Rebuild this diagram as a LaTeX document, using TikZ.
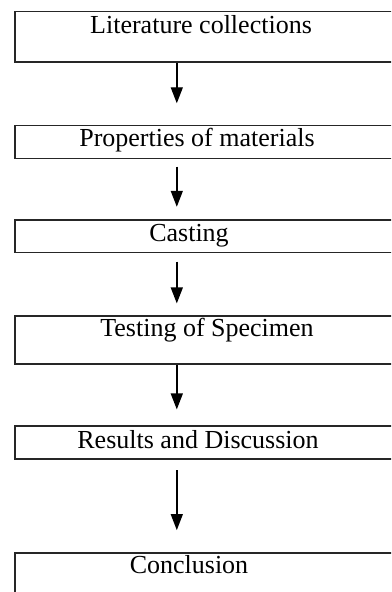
\documentclass[tikz,border=0pt]{standalone}
\usepackage{fontspec}
\setmainfont{Liberation Serif}
\usetikzlibrary{arrows.meta, calc}

\begin{document}
\begin{tikzpicture}[
    stagebox/.style={draw=black!85, line width=0.9pt, anchor=north west,
        minimum width=210pt, inner sep=0pt},
    stagetext/.style={anchor=base, inner sep=0pt,
        font=\fontsize{13}{15}\selectfont},
    flowarrow/.style={line width=0.7pt, -{Triangle[length=8pt, width=6pt]}}
]
    % page frame, the boxes run past the right edge
    \clip (0,0) rectangle (195.5pt,-296pt);

    % stage boxes
    \node[stagebox, minimum height=25.15pt] (lit)  at (7pt,-5.35pt)  {};
    \node[stagebox, minimum height=16.5pt]  (prop) at (7pt,-62.35pt) {};
    \node[stagebox, minimum height=16.35pt] (cast) at (7pt,-109.5pt) {};
    \node[stagebox, minimum height=24.15pt] (test) at (7pt,-157.5pt) {};
    \node[stagebox, minimum height=16.65pt] (res)  at (7pt,-212.5pt) {};
    \node[stagebox, minimum height=40pt]    (conc) at (7pt,-275.85pt) {};

    % texts
    \node[stagetext] (littext)  at (100.5pt,-17pt)    {Literature collections};
    \node[stagetext] (proptext) at (98.5pt,-73.35pt)  {Properties of materials};
    \node[stagetext] (casttext) at (94.5pt,-120.85pt) {Casting};
    \node[stagetext] (testtext) at (103.5pt,-168.35pt) {Testing of Specimen};
    \node[stagetext] (restext)  at (99pt,-224.15pt)   {Results and Discussion};
    \node[stagetext] (conctext) at (94.5pt,-286.65pt) {Conclusion};

    % arrows
    \coordinate (axis) at (88.4pt,0);
    \draw[flowarrow, shorten >=10.7pt] (lit.south -| axis) -- (prop.north -| axis);
    \draw[flowarrow, shorten <=3.6pt, shorten >=6.1pt] (prop.south -| axis) -- (cast.north -| axis);
    \draw[flowarrow, shorten <=4.1pt, shorten >=5.8pt] (cast.south -| axis) -- (test.north -| axis);
    \draw[flowarrow, shorten >=7.8pt] (test.south -| axis) -- (res.north -| axis);
    \draw[flowarrow, shorten <=5pt, shorten >=10.8pt] (res.south -| axis) -- (conc.north -| axis);
\end{tikzpicture}
\end{document}
